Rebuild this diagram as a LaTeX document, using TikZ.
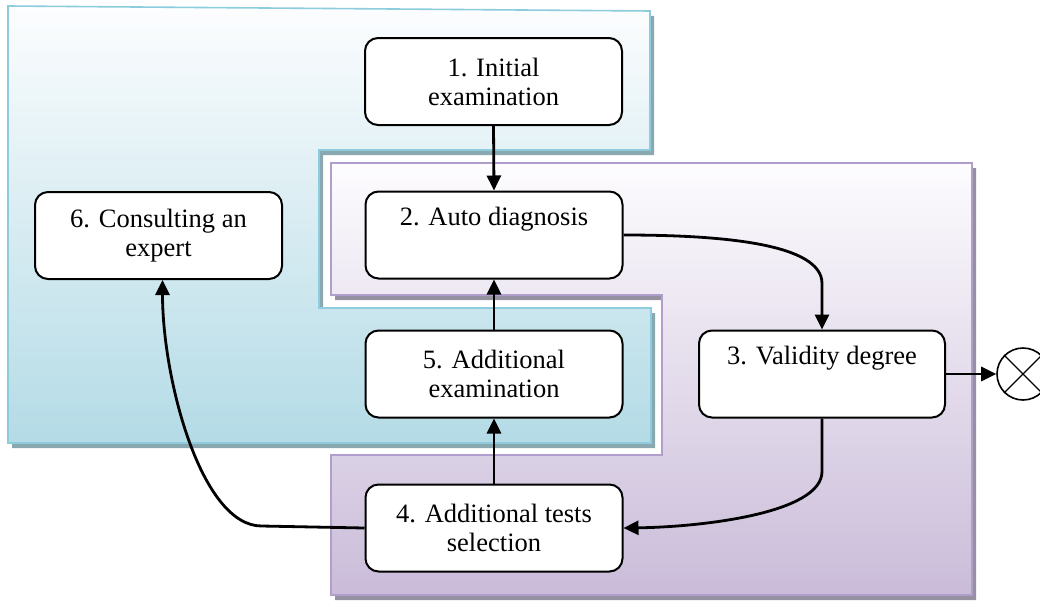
\documentclass[tikz,border=0pt]{standalone}
\usepackage{fontspec}
\setmainfont{Liberation Serif}
\usetikzlibrary{arrows.meta,calc,shapes.geometric}
\definecolor{blueTop}{RGB}{252,253,254}
\definecolor{blueBot}{RGB}{180,219,230}
\definecolor{blueEdge}{RGB}{140,204,220}
\definecolor{blueShadow}{RGB}{138,168,176}
\definecolor{purpTop}{RGB}{253,252,254}
\definecolor{purpBot}{RGB}{202,188,217}
\definecolor{purpEdge}{RGB}{176,158,204}
\definecolor{purpShadow}{RGB}{150,145,160}
\begin{document}
\begin{tikzpicture}[x=1pt,y=-1pt,
  stepbox/.style={draw=black, fill=white, line width=2pt, rounded corners=13pt,
    align=center, font=\fontsize{26.5}{29}\selectfont, inner sep=0pt,
    minimum width=257pt, minimum height=87pt},
  flow/.style={line width=2.8pt, -{Triangle[length=15pt,width=14pt]}},
  bluezone/.style={draw=blueEdge, line width=1.6pt, top color=blueTop, bottom color=blueBot},
  purpzone/.style={draw=purpEdge, line width=1.8pt, top color=purpTop, bottom color=purpBot}
]
\useasboundingbox (0,0) rectangle (1040,605);

% blue zone
\fill[blueShadow, shift={(4,5)}] (8,6) -- (650,11) -- (650,150) -- (319,150) -- (319,308)
  -- (651,308) -- (651,443) -- (8,443) -- cycle;
\path[bluezone] (8,6) -- (650,11) -- (650,150) -- (319,150) -- (319,308)
  -- (651,308) -- (651,443) -- (8,443) -- cycle;

% purple zone
\fill[purpShadow, shift={(4,5)}] (331,163) -- (972,163) -- (972,595) -- (331,595) -- (331,455)
  -- (662,455) -- (662,295) -- (331,295) -- cycle;
\path[purpzone] (331,163) -- (972,163) -- (972,595) -- (331,595) -- (331,455)
  -- (662,455) -- (662,295) -- (331,295) -- cycle;

% nodes
\node[stepbox] (n1) at (493.5,81.5) {1. Initial\\examination};
\node[stepbox] (n2) at (494,235) {2. Auto diagnosis\\\strut};
\node[stepbox, minimum width=246pt] (n3) at (822,374) {3. Validity degree\\\strut};
\node[stepbox] (n4) at (494,528) {4. Additional tests\\selection};
\node[stepbox] (n5) at (494,374) {5. Additional\\examination};
\node[stepbox, minimum width=247pt] (n6) at (158.5,235.5) {6. Consulting an\\expert};

\node[circle, draw=black, line width=1.6pt, minimum size=52pt, inner sep=0pt] (xc) at (1023,374) {};
\draw[line width=1.3pt] (xc.north west) -- (xc.south east);
\draw[line width=1.3pt] (xc.south west) -- (xc.north east);

% connectors
\draw[flow] (n1.south) -- (n2.north);
\draw[flow] (n5.north) -- (n2.south);
\draw[flow] (n4.north) -- (n5.south);
\draw[flow] (n2.east) .. controls +(98,0) and +(0,-40) .. ($(n3.north)+(0,-46)$) -- (n3.north);
\draw[flow] (n3.south) -- ++(0,53) .. controls +(0,42) and +(77,-1) .. (n4.east);
\draw[flow] (n4.west) -- ++(-103,-2) .. controls +(-60,0) and +(0,100) .. ($(n6.south)+(4,0)$);
\draw[flow] (n3.east) -- (xc.west);
\end{tikzpicture}
\end{document}
